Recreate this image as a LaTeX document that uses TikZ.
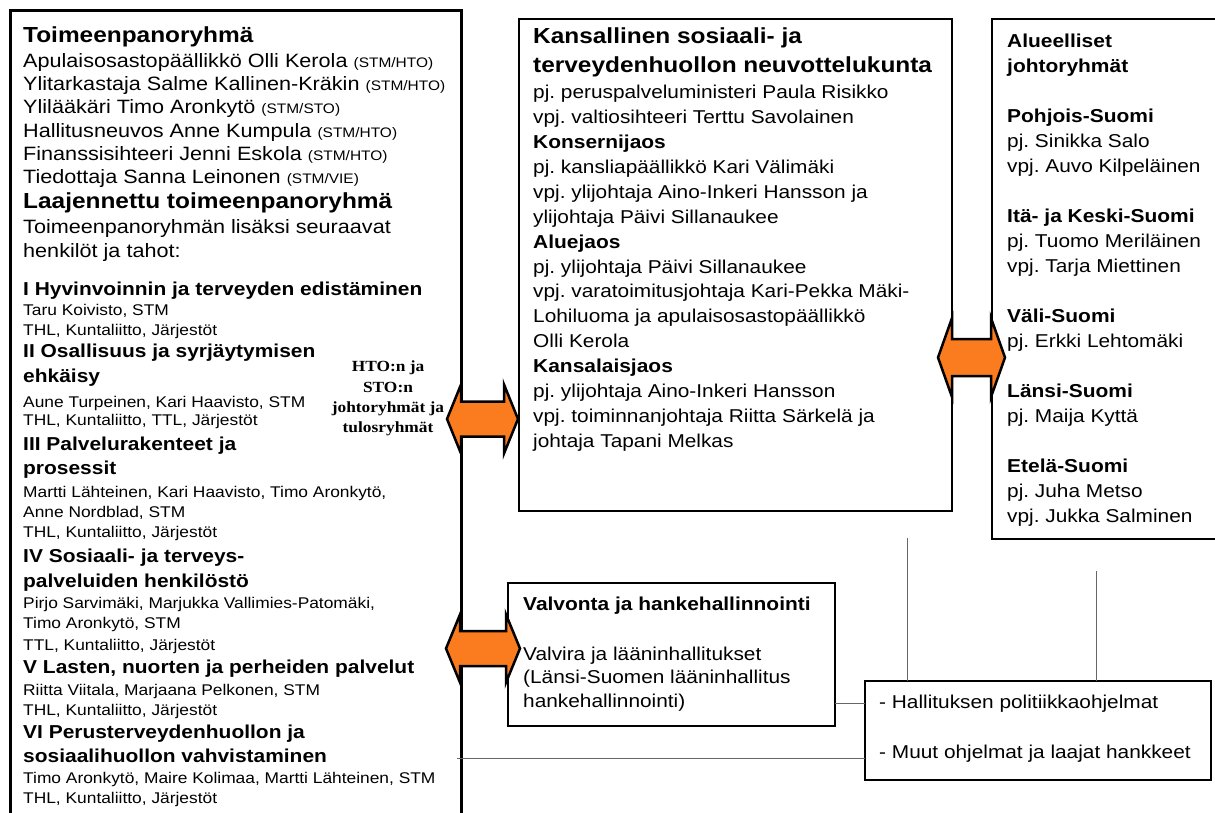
\documentclass[tikz,border=0pt]{standalone}
\usepackage{fontspec}
\setmainfont{Liberation Sans}[FakeStretch=1.12]
\newfontfamily\serifbf{Liberation Serif}[FakeStretch=1.12]
\usetikzlibrary{calc}
\frenchspacing

\definecolor{arroworange}{RGB}{250,124,30}
\newcommand\org[1]{{\fontsize{13.8}{16}\selectfont(#1)}}
% block arrow with two heads, between two tip coordinates
\newcommand\dblarrow[4]{%
  \draw[arrowbody] (#1) -- ($(#1)+(14,-#4)$) -- ($(#1)+(14,-#3)$) -- ($(#2)+(-14,-#3)$)
    -- ($(#2)+(-14,-#4)$) -- (#2) -- ($(#2)+(-14,#4)$) -- ($(#2)+(-14,#3)$)
    -- ($(#1)+(14,#3)$) -- ($(#1)+(14,#4)$) -- cycle;}

\tikzset{
  box/.style={draw, line width=2.5, anchor=north west, inner sep=0, outer sep=0},
  lbl/.style={anchor=base west, inner sep=0},
  ltxt/.style={lbl, font=\fontsize{19.3}{23}\selectfont},
  txt/.style={lbl, font=\fontsize{18.6}{22}\selectfont},
  hd/.style={lbl, font=\fontsize{18.7}{22}\selectfont\bfseries},
  ttl/.style={lbl, font=\fontsize{21.8}{26}\selectfont\bfseries},
  sml/.style={lbl, font=\fontsize{15.5}{18}\selectfont},
  mid/.style={anchor=base, inner sep=0, font=\fontsize{15.5}{18}\selectfont\serifbf\bfseries},
  arrowbody/.style={draw, line width=2.5, fill=arroworange, line join=miter},
  conn/.style={draw=black!60, line width=1},
}

\begin{document}
\begin{tikzpicture}[x=1pt,y=-1pt]
  \clip (0,0) rectangle (1215,812);
  \fill[white] (0,0) rectangle (1215,812);

  % boxes
  \node[box, line width=3, minimum width=451, minimum height=820] (toimeen) at (10,10) {};
  \node[box, minimum width=433, minimum height=492] (neuvottelu) at (519,19) {};
  \node[box, minimum width=240, minimum height=520] (alue) at (992,19) {};
  \node[box, minimum width=327, minimum height=143] (valvonta) at (508,583) {};
  \node[box, line width=1.2, minimum width=346, minimum height=99] (ohjelmat) at (865,681) {};

  % left box
  \node[ttl] (lt0) at (23,42) {Toimeenpanoryhmä};
  \node[ttl] (lt00) at (23,208) {Laajennettu toimeenpanoryhmä};
  \foreach \y/\t [count=\i] in {67/{Apulaisosastopäällikkö Olli Kerola \org{STM/HTO}},
      90/{Ylitarkastaja Salme Kallinen-Kräkin \org{STM/HTO}},
      113/{Ylilääkäri Timo Aronkytö \org{STM/STO}},
      137/{Hallitusneuvos Anne Kumpula \org{STM/HTO}},
      160/{Finanssisihteeri Jenni Eskola \org{STM/HTO}},
      183/{Tiedottaja Sanna Leinonen \org{STM/VIE}},
      233/{Toimeenpanoryhmän lisäksi seuraavat},
      257/{henkilöt ja tahot:}}
    \node[ltxt] (ln\i) at (23,\y) {\t};
  \foreach \y/\t [count=\i] in {295/{I Hyvinvoinnin ja terveyden edistäminen},
      357/{II Osallisuus ja syrjäytymisen}, 382/{ehkäisy},
      450/{III Palvelurakenteet ja}, 474/{prosessit},
      562/{IV Sosiaali- ja terveys-}, 587/{palveluiden henkilöstö},
      673/{V Lasten, nuorten ja perheiden palvelut},
      738/{VI Perusterveydenhuollon ja}, 762/{sosiaalihuollon vahvistaminen}}
    \node[hd] (lh\i) at (23,\y) {\t};
  \foreach \y/\t [count=\i] in {315/{Taru Koivisto, STM}, 335/{THL, Kuntaliitto, Järjestöt},
      407/{Aune Turpeinen, Kari Haavisto, STM}, 425/{THL, Kuntaliitto, TTL, Järjestöt},
      497/{Martti Lähteinen, Kari Haavisto, Timo Aronkytö,}, 517/{Anne Nordblad, STM},
      537/{THL, Kuntaliitto, Järjestöt},
      608/{Pirjo Sarvimäki, Marjukka Vallimies-Patomäki,}, 628/{Timo Aronkytö, STM},
      650/{TTL, Kuntaliitto, Järjestöt},
      695/{Riitta Viitala, Marjaana Pelkonen, STM}, 715/{THL, Kuntaliitto, Järjestöt},
      783/{Timo Aronkytö, Maire Kolimaa, Martti Lähteinen, STM}, 803/{THL, Kuntaliitto, Järjestöt}}
    \node[sml] (ls\i) at (23,\y) {\t};

  % label between the boxes
  \foreach \y/\t [count=\i] in {371/{HTO:n ja}, 392/{STO:n}, 412/{johtoryhmät ja}, 432/{tulosryhmät}}
    \node[mid] (hto\i) at (388,\y) {\t};

  % centre box
  \node[ttl] (ct1) at (533,43) {Kansallinen sosiaali- ja};
  \node[ttl] (ct2) at (533,72) {terveydenhuollon neuvottelukunta};
  \foreach \y/\t [count=\i] in {148/Konsernijaos, 248/Aluejaos, 372/Kansalaisjaos}
    \node[hd] (ch\i) at (533,\y) {\t};
  \foreach \y/\t [count=\i] in {98/{pj. peruspalveluministeri Paula Risikko},
      123/{vpj. valtiosihteeri Terttu Savolainen},
      173/{pj. kansliapäällikkö Kari Välimäki},
      198/{vpj. ylijohtaja Aino-Inkeri Hansson ja},
      223/{ylijohtaja Päivi Sillanaukee},
      273/{pj. ylijohtaja Päivi Sillanaukee},
      297/{vpj. varatoimitusjohtaja Kari-Pekka Mäki-},
      322/{Lohiluoma ja apulaisosastopäällikkö},
      347/{Olli Kerola},
      397/{pj. ylijohtaja Aino-Inkeri Hansson},
      422/{vpj. toiminnanjohtaja Riitta Särkelä ja},
      447/{johtaja Tapani Melkas}}
    \node[txt] (cn\i) at (533,\y) {\t};

  % right box
  \foreach \y/\t [count=\i] in {47/Alueelliset, 72/johtoryhmät, 122/Pohjois-Suomi,
      222/{Itä- ja Keski-Suomi}, 322/Väli-Suomi, 397/Länsi-Suomi, 472/Etelä-Suomi}
    \node[hd] (rh\i) at (1007,\y) {\t};
  \foreach \y/\t [count=\i] in {147/{pj. Sinikka Salo}, 172/{vpj. Auvo Kilpeläinen},
      247/{pj. Tuomo Meriläinen}, 272/{vpj. Tarja Miettinen}, 347/{pj. Erkki Lehtomäki},
      422/{pj. Maija Kyttä}, 497/{pj. Juha Metso}, 522/{vpj. Jukka Salminen}}
    \node[txt] (rn\i) at (1007,\y) {\t};

  % lower boxes
  \node[hd] (vt) at (523,610) {Valvonta ja hankehallinnointi};
  \node[txt] (vt1) at (523,660) {Valvira ja lääninhallitukset};
  \node[txt] (vt2) at (523,683) {(Länsi-Suomen lääninhallitus};
  \node[txt] (vt3) at (523,707) {hankehallinnointi)};
  \node[txt] (oh1) at (879,708) {- Hallituksen politiikkaohjelmat};
  \node[txt] (oh2) at (879,758) {- Muut ohjelmat ja laajat hankkeet};

  % connectors
  \coordinate (v1) at (907,538);
  \coordinate (v2) at (1096,571);
  \coordinate (h2) at (457,758);
  \draw[conn] (v1) -- (v1 |- ohjelmat.north);
  \draw[conn] (v2) -- (v2 |- ohjelmat.north);
  \draw[conn] (valvonta.east |- 0,703) -- (ohjelmat.west |- 0,703);
  \draw[conn] (h2) -- (h2 -| ohjelmat.west);

  % block arrows
  \coordinate (a1w) at (447,419);
  \coordinate (a1e) at (518,419);
  \coordinate (a2w) at (938,357.5);
  \coordinate (a2e) at (1005,357.5);
  \coordinate (a3w) at (446,648.5);
  \coordinate (a3e) at (520,648.5);
  \dblarrow{a1w}{a1e}{17.5}{34.5}
  \dblarrow{a2w}{a2e}{18.5}{39.5}
  \dblarrow{a3w}{a3e}{17.5}{34}
\end{tikzpicture}
\end{document}
